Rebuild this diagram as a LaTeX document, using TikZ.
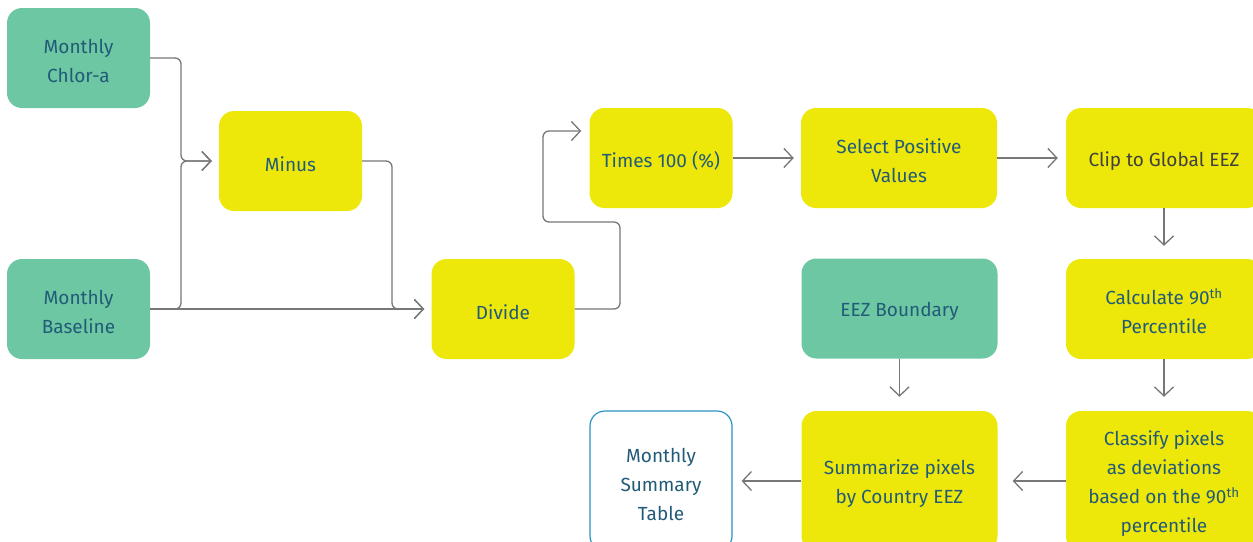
\documentclass[tikz,border=0pt]{standalone}
\usepackage{fontspec}
\setmainfont{Fira Sans}
\usetikzlibrary{arrows.meta}

\definecolor{datagreen}{HTML}{6CC7A2}
\definecolor{stepyellow}{HTML}{EDE80A}
\definecolor{labteal}{HTML}{225B78}
\definecolor{linegray}{HTML}{777777}
\definecolor{outblue}{HTML}{2B93C4}

\tikzset{lift/.style={execute at begin node={\rule{0pt}{#1}}}, lift/.default=21pt}

\begin{document}
\begin{tikzpicture}[x=1pt,y=-1pt]

  \tikzstyle{flowbox}=[rectangle,rounded corners=15pt,minimum width=143pt,minimum height=100pt,align=center,text=labteal,font=\fontsize{19}{29}\selectfont,lift]
  \tikzstyle{datanode}=[flowbox,fill=datagreen]
  \tikzstyle{stepnode}=[flowbox,fill=stepyellow]
  \tikzstyle{widenode}=[minimum width=196pt]
  \tikzstyle{outnode}=[flowbox,draw=outblue,line width=1.2pt,fill=white]

  \tikzstyle{pointer}=[draw=linegray,line width=1.3pt,rounded corners=6pt,-{Straight Barb[length=9pt,width=19pt]}]

  \useasboundingbox (0,0) rectangle (1253,541);

  % nodes
  \node[datanode,lift=50pt] (chl) at (78.5,58) {Monthly\\Chlor-a};
  \node[datanode,lift=50pt] (base) at (78.5,309) {Monthly\\Baseline};

  \node[stepnode] (minus) at (290.5,161) {Minus};
  \node[stepnode] (divide) at (503,309) {Divide};

  \node[stepnode] (times) at (661,158) {Times 100 (\%)};
  \node[stepnode,widenode,lift=50pt] (select) at (899,158) {Select Positive\\Values};
  \node[stepnode,widenode,text=black!75] (clip) at (1164,158) {Clip to Global EEZ};

  \node[datanode,widenode] (eez) at (899.5,308.5) {EEZ Boundary};
  \node[stepnode,widenode,lift=50pt] (pct) at (1164,309) {Calculate 90\textsuperscript{th}\\Percentile};

  \node[stepnode,widenode,minimum height=140pt,lift=108pt] (classify) at (1164,481) {Classify pixels\\as deviations\\based on the 90\textsuperscript{th}\\percentile};
  \node[stepnode,widenode,minimum height=140pt,lift=50pt] (summ) at (899.5,481) {Summarize pixels\\by Country EEZ};
  \node[outnode,minimum width=142pt,minimum height=140pt,lift=79pt] (table) at (661,481) {Monthly\\Summary\\Table};

  \coordinate (jx) at (181,0);
  \coordinate (mx) at (392,0);
  \coordinate (dtop) at (620,222);
  \coordinate (dback) at (543,222);

  % pointers
  \draw[pointer,shorten >=7pt] (chl.east) -- (chl.east -| jx) -- (minus.west -| jx) -- (minus.west);
  \draw[pointer,shorten >=7pt] (base.east) -- (base.east -| jx) -- (minus.west -| jx) -- (minus.west);
  \draw[pointer,shorten >=7pt] (base.east) -- (divide.west);
  \draw[pointer,shorten >=7pt] (minus.east) -- (minus.east -| mx) -- (divide.west -| mx) -- (divide.west);
  \draw[pointer,shorten >=8pt] (divide.east) -| (dtop) -- (dback) |- ([yshift=27pt]times.west);

  \draw[pointer,shorten >=7pt] (times) -- (select);
  \draw[pointer,shorten >=8pt] (select) -- (clip);
  \draw[pointer,shorten >=13pt] (clip) -- (pct);
  \draw[pointer,shorten >=14pt] (pct) -- (classify.north);
  \draw[pointer,shorten >=14pt] (eez) -- (summ.north);
  \draw[pointer,shorten >=15pt] (classify) -- (summ);
  \draw[pointer,shorten >=9pt] (summ) -- (table);

\end{tikzpicture}
\end{document}
